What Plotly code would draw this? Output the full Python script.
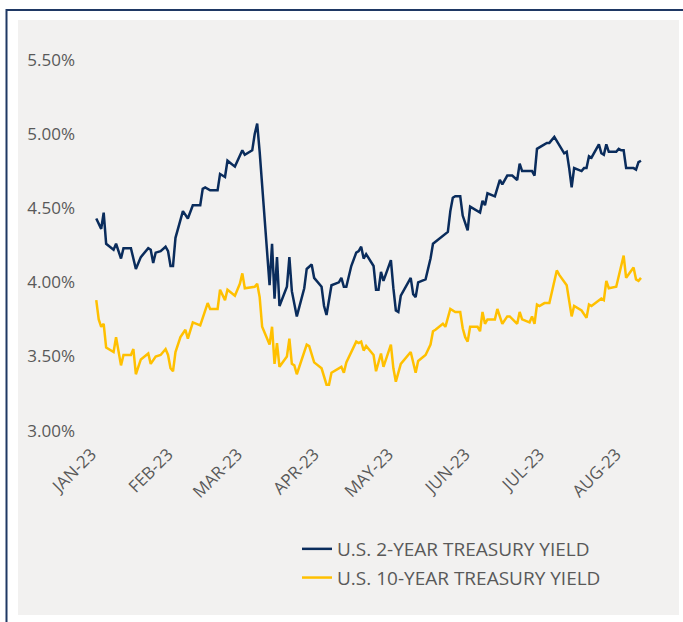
import plotly.graph_objects as go

# ---------------- data ----------------
dates_2yr = [
    "2023-01-03", "2023-01-05", "2023-01-06", "2023-01-07", "2023-01-10", "2023-01-11", "2023-01-13", "2023-01-14", "2023-01-17", "2023-01-19",
    "2023-01-21", "2023-01-24", "2023-01-25", "2023-01-26", "2023-01-27", "2023-01-29", "2023-01-31", "2023-02-01", "2023-02-02", "2023-02-03",
    "2023-02-04", "2023-02-07", "2023-02-09", "2023-02-11", "2023-02-14", "2023-02-15", "2023-02-16", "2023-02-18", "2023-02-21", "2023-02-22",
    "2023-02-24", "2023-02-25", "2023-02-28", "2023-03-03", "2023-03-04", "2023-03-07", "2023-03-08", "2023-03-09", "2023-03-10", "2023-03-14",
    "2023-03-15", "2023-03-16", "2023-03-17", "2023-03-18", "2023-03-21", "2023-03-22", "2023-03-23", "2023-03-25", "2023-03-28", "2023-03-29",
    "2023-03-31", "2023-04-01", "2023-04-04", "2023-04-05", "2023-04-06", "2023-04-08", "2023-04-11", "2023-04-12", "2023-04-13", "2023-04-14",
    "2023-04-16", "2023-04-18", "2023-04-19", "2023-04-20", "2023-04-21", "2023-04-22", "2023-04-25", "2023-04-26", "2023-04-27", "2023-04-28",
    "2023-04-29", "2023-05-02", "2023-05-03", "2023-05-04", "2023-05-05", "2023-05-06", "2023-05-10", "2023-05-11", "2023-05-12", "2023-05-13",
    "2023-05-16", "2023-05-18", "2023-05-19", "2023-05-24", "2023-05-25", "2023-05-26", "2023-05-27", "2023-05-28", "2023-05-30", "2023-05-31",
    "2023-06-01", "2023-06-02", "2023-06-03", "2023-06-07", "2023-06-08", "2023-06-09", "2023-06-10", "2023-06-13", "2023-06-15", "2023-06-16",
    "2023-06-18", "2023-06-20", "2023-06-22", "2023-06-23", "2023-06-24", "2023-06-28", "2023-06-29", "2023-06-30", "2023-07-02", "2023-07-04",
    "2023-07-05", "2023-07-07", "2023-07-11", "2023-07-12", "2023-07-13", "2023-07-14", "2023-07-15", "2023-07-18", "2023-07-19", "2023-07-20",
    "2023-07-21", "2023-07-22", "2023-07-25", "2023-07-26", "2023-07-27", "2023-07-28", "2023-07-29", "2023-08-01", "2023-08-02", "2023-08-03",
    "2023-08-04", "2023-08-05", "2023-08-08", "2023-08-09", "2023-08-10", "2023-08-11",
]
yield_2yr = [
    4.43, 4.36, 4.47, 4.26, 4.22, 4.26, 4.16, 4.23, 4.23, 4.09,
    4.17, 4.23, 4.22, 4.13, 4.20, 4.21, 4.24, 4.21, 4.11, 4.11,
    4.30, 4.48, 4.43, 4.52, 4.52, 4.63, 4.64, 4.62, 4.62, 4.73,
    4.71, 4.82, 4.78, 4.89, 4.86, 4.89, 5.00, 5.07, 4.88, 3.98,
    4.26, 3.89, 4.17, 3.84, 3.97, 4.17, 3.94, 3.77, 3.96, 4.09,
    4.12, 4.03, 3.97, 3.84, 3.78, 3.98, 4.00, 4.03, 3.97, 3.97,
    4.11, 4.20, 4.21, 4.24, 4.16, 4.19, 4.11, 3.95, 3.95, 4.07,
    4.01, 4.15, 3.96, 3.81, 3.80, 3.91, 4.03, 3.92, 3.90, 4.00,
    4.02, 4.16, 4.26, 4.33, 4.34, 4.48, 4.57, 4.58, 4.58, 4.45,
    4.40, 4.35, 4.51, 4.47, 4.55, 4.52, 4.60, 4.58, 4.69, 4.66,
    4.72, 4.72, 4.69, 4.80, 4.75, 4.75, 4.72, 4.90, 4.92, 4.94,
    4.94, 4.98, 4.87, 4.88, 4.77, 4.64, 4.77, 4.75, 4.77, 4.77,
    4.85, 4.84, 4.93, 4.87, 4.86, 4.93, 4.88, 4.88, 4.90, 4.89,
    4.89, 4.77, 4.77, 4.76, 4.81, 4.82,
]

dates_10yr = [
    "2023-01-03", "2023-01-04", "2023-01-05", "2023-01-06", "2023-01-07", "2023-01-10", "2023-01-11", "2023-01-13", "2023-01-14", "2023-01-17",
    "2023-01-18", "2023-01-19", "2023-01-21", "2023-01-24", "2023-01-25", "2023-01-27", "2023-01-29", "2023-01-31", "2023-02-01", "2023-02-02",
    "2023-02-03", "2023-02-04", "2023-02-06", "2023-02-08", "2023-02-09", "2023-02-11", "2023-02-14", "2023-02-17", "2023-02-18", "2023-02-21",
    "2023-02-22", "2023-02-24", "2023-02-25", "2023-02-28", "2023-03-02", "2023-03-03", "2023-03-04", "2023-03-08", "2023-03-09", "2023-03-10",
    "2023-03-11", "2023-03-14", "2023-03-15", "2023-03-16", "2023-03-17", "2023-03-18", "2023-03-21", "2023-03-22", "2023-03-23", "2023-03-24",
    "2023-03-25", "2023-03-29", "2023-03-30", "2023-04-01", "2023-04-04", "2023-04-06", "2023-04-07", "2023-04-08", "2023-04-12", "2023-04-13",
    "2023-04-14", "2023-04-18", "2023-04-19", "2023-04-20", "2023-04-21", "2023-04-22", "2023-04-25", "2023-04-26", "2023-04-28", "2023-04-29",
    "2023-05-02", "2023-05-03", "2023-05-04", "2023-05-06", "2023-05-10", "2023-05-12", "2023-05-13", "2023-05-16", "2023-05-18", "2023-05-19",
    "2023-05-20", "2023-05-23", "2023-05-24", "2023-05-26", "2023-05-28", "2023-05-30", "2023-05-31", "2023-06-01", "2023-06-02", "2023-06-03",
    "2023-06-06", "2023-06-07", "2023-06-08", "2023-06-09", "2023-06-10", "2023-06-13", "2023-06-14", "2023-06-16", "2023-06-18", "2023-06-19",
    "2023-06-22", "2023-06-23", "2023-06-24", "2023-06-27", "2023-06-28", "2023-06-29", "2023-06-30", "2023-07-01", "2023-07-03", "2023-07-05",
    "2023-07-08", "2023-07-09", "2023-07-12", "2023-07-13", "2023-07-14", "2023-07-15", "2023-07-18", "2023-07-20", "2023-07-21", "2023-07-22",
    "2023-07-26", "2023-07-27", "2023-07-28", "2023-07-29", "2023-08-01", "2023-08-04", "2023-08-05", "2023-08-08", "2023-08-09", "2023-08-10",
    "2023-08-11",
]
yield_10yr = [
    3.88, 3.75, 3.70, 3.72, 3.56, 3.53, 3.63, 3.44, 3.51, 3.51,
    3.55, 3.38, 3.48, 3.52, 3.45, 3.50, 3.51, 3.55, 3.51, 3.42,
    3.40, 3.53, 3.63, 3.68, 3.62, 3.73, 3.71, 3.86, 3.82, 3.82,
    3.95, 3.88, 3.95, 3.91, 3.99, 4.06, 3.96, 3.97, 3.99, 3.90,
    3.70, 3.58, 3.70, 3.45, 3.59, 3.43, 3.50, 3.62, 3.45, 3.44,
    3.38, 3.58, 3.57, 3.46, 3.42, 3.31, 3.31, 3.39, 3.43, 3.39,
    3.46, 3.60, 3.59, 3.60, 3.54, 3.57, 3.51, 3.40, 3.52, 3.43,
    3.58, 3.42, 3.33, 3.45, 3.53, 3.39, 3.47, 3.51, 3.58, 3.67,
    3.68, 3.72, 3.70, 3.82, 3.80, 3.80, 3.69, 3.63, 3.60, 3.70,
    3.70, 3.67, 3.80, 3.72, 3.75, 3.75, 3.82, 3.72, 3.77, 3.77,
    3.72, 3.80, 3.75, 3.73, 3.77, 3.72, 3.85, 3.84, 3.86, 3.86,
    4.08, 4.05, 3.98, 3.88, 3.77, 3.84, 3.81, 3.76, 3.85, 3.84,
    3.89, 3.88, 4.01, 3.96, 3.97, 4.18, 4.03, 4.10, 4.02, 4.01,
    4.03,
]

month_ticks = ["2023-01-01", "2023-02-01", "2023-03-01", "2023-04-01",
               "2023-05-01", "2023-06-01", "2023-07-01", "2023-08-01"]
month_labels = ["JAN-23", "FEB-23", "MAR-23", "APR-23",
                "MAY-23", "JUN-23", "JUL-23", "AUG-23"]
y_ticks = [3.0, 3.5, 4.0, 4.5, 5.0, 5.5]
y_labels = ["3.00%", "3.50%", "4.00%", "4.50%", "5.00%", "5.50%"]

series_names = ["U.S. 2-YEAR TREASURY YIELD", "U.S. 10-YEAR TREASURY YIELD"]

# ---------------- styling ----------------
NAVY = "#0a2c5c"
GOLD = "#ffc000"
TEXT = "#595959"
PANEL = "#f2f1f0"
BORDER = "#1f3864"
FONT = "Open Sans"

W, H = 683, 622
ML, MR, MT, MB = 80, 23, 40, 182
PW, PH = W - ML - MR, H - MT - MB


def px_x(px):
    return (px - ML) / PW


def px_y(py):
    return (H - MB - py) / PH


fig = go.Figure()
fig.add_trace(go.Scatter(x=dates_2yr, y=yield_2yr, mode="lines", name=series_names[0],
                         legendgroup="a", line=dict(color=NAVY, width=2.5)))
fig.add_trace(go.Scatter(x=dates_10yr, y=yield_10yr, mode="lines", name=series_names[1],
                         legendgroup="b", line=dict(color=GOLD, width=2.5)))

shapes = [
    # grey panel
    dict(type="rect", xref="paper", yref="paper", layer="below",
         x0=px_x(18), x1=px_x(679), y0=px_y(615), y1=px_y(20),
         fillcolor=PANEL, line=dict(width=0)),
    # outer frame (top and left)
    dict(type="line", xref="paper", yref="paper",
         x0=px_x(6), x1=px_x(700), y0=px_y(10), y1=px_y(10),
         line=dict(color=BORDER, width=2)),
    dict(type="line", xref="paper", yref="paper",
         x0=px_x(6.5), x1=px_x(6.5), y0=px_y(9), y1=px_y(640),
         line=dict(color=BORDER, width=2)),
]

fig.update_layout(
    width=W, height=H,
    margin=dict(l=ML, r=MR, t=MT, b=MB),
    paper_bgcolor="white",
    plot_bgcolor="rgba(0,0,0,0)",
    font=dict(family=FONT, color=TEXT, size=17),
    shapes=shapes,
    showlegend=True,
    legend=dict(
        x=px_x(297), y=px_y(530), xanchor="left", yanchor="top",
        bgcolor="rgba(0,0,0,0)", font=dict(size=19, color=TEXT, family=FONT),
        traceorder="grouped", tracegroupgap=1,
    ),
    xaxis=dict(
        type="date",
        range=["2022-12-27 10:30", "2023-08-18 16:20"],
        tickvals=month_ticks, ticktext=month_labels,
        tickangle=-45, showgrid=False, zeroline=False, showline=False,
        ticks="", tickfont=dict(size=17, color=TEXT),
    ),
    yaxis=dict(
        range=[2.9366, 5.6339],
        tickvals=y_ticks, ticktext=y_labels,
        showgrid=False, zeroline=False, showline=False, ticks="",
        ticklabelstandoff=4,
        tickfont=dict(size=17, color=TEXT),
    ),
)

fig.write_html(
    "out.html",
    config={"displayModeBar": False},
    post_script="document.body.style.margin='0';document.body.style.overflow='hidden';",
)
